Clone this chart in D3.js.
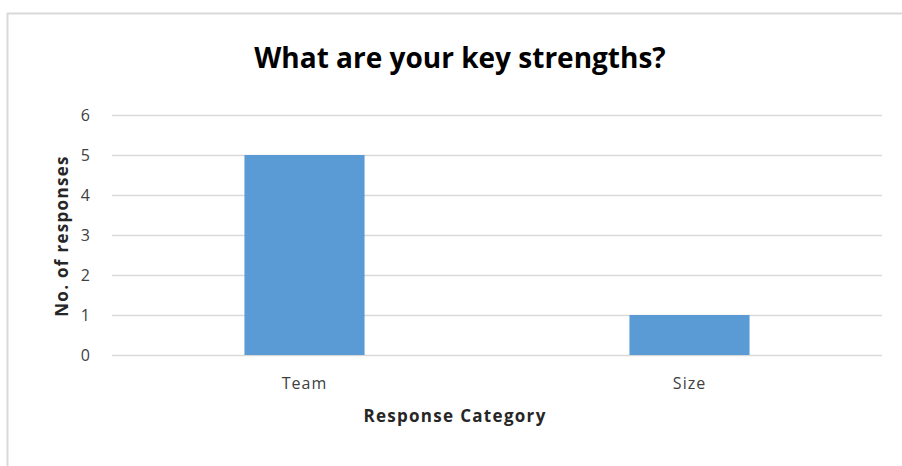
<!DOCTYPE html>
<html><head><meta charset="utf-8">
<script src="https://cdn.jsdelivr.net/npm/d3@7"></script>
<style>body{margin:0;background:#fff}svg{display:block}</style>
</head><body>
<script>
const categories = ["Team", "Size"];
const values = [5, 1];
const yTicks = [0, 1, 2, 3, 4, 5, 6];
const title = "What are your key strengths?";
const xTitle = "Response Category";
const yTitle = "No. of responses";

(function () {
const W = 902, H = 466;
const svg = d3.select("body").append("svg").attr("width", W).attr("height", H);
svg.append("rect").attr("width", W).attr("height", H).attr("fill", "#fff");
// chart border
svg.append("path").attr("d", `M7.5,${H} V13.5 H${W}`).attr("fill", "none")
  .attr("stroke", "#d9d9d9").attr("stroke-width", 2);

const pl = 112, pr = 882, pt = 115, pb = 355;
const x = d3.scaleBand().domain(categories).range([pl, pr]).paddingInner(0.688).paddingOuter(0.344);
const y = d3.scaleLinear().domain([0, 6]).range([pb, pt]);

const font = "'Open Sans', 'Noto Sans', sans-serif";

// gridlines
const yAxis = d3.axisLeft(y).tickValues(yTicks).tickSize(-(pr - pl)).tickPadding(22).tickFormat(d3.format("d"));
const gy = svg.append("g").attr("transform", `translate(${pl},0)`).call(yAxis);
gy.select(".domain").remove();
gy.selectAll(".tick line").attr("stroke", "#d9d9d9").attr("stroke-width", 1.5);
gy.selectAll(".tick text").attr("fill", "#404040").attr("font-family", font).attr("font-size", 16);

// bars
svg.selectAll("rect.bar").data(values).join("rect").attr("class", "bar")
  .attr("x", (d, i) => x(categories[i])).attr("width", x.bandwidth())
  .attr("y", d => y(d)).attr("height", d => y(0) - y(d)).attr("fill", "#5b9bd5");

// x axis labels
const xAxis = d3.axisBottom(x).tickSize(0).tickPadding(23);
const gx = svg.append("g").attr("transform", `translate(0,${pb})`).call(xAxis);
gx.select(".domain").remove();
gx.selectAll(".tick text").attr("fill", "#404040").attr("font-family", font).attr("font-size", 16)
  .attr("letter-spacing", "1px");

svg.append("text").attr("x", 460).attr("y", 68).attr("text-anchor", "middle")
  .attr("font-family", font).attr("font-weight", "bold").attr("font-size", 28).attr("fill", "#000").text(title);
svg.append("text").attr("x", 455).attr("y", 422).attr("text-anchor", "middle")
  .attr("font-family", font).attr("font-weight", "bold").attr("font-size", 17).attr("fill", "#262626")
  .attr("letter-spacing", "1.3px").text(xTitle);
svg.append("text").attr("transform", `translate(68,236) rotate(-90)`).attr("text-anchor", "middle")
  .attr("font-family", font).attr("font-weight", "bold").attr("font-size", 17).attr("fill", "#262626")
  .attr("letter-spacing", "1.3px").text(yTitle);
})();
</script>
</body></html>
